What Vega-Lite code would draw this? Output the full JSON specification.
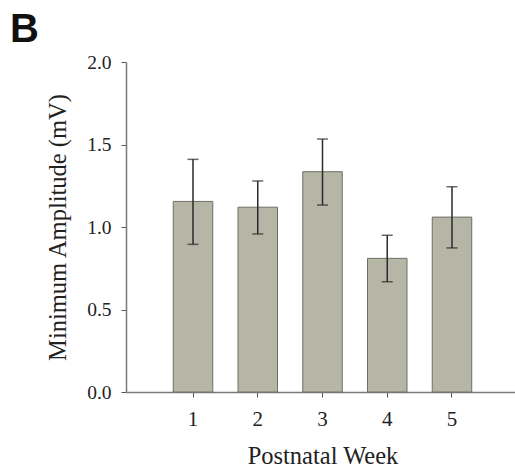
{
  "$schema": "https://vega.github.io/schema/vega-lite/v6.json",
  "autosize": "none",
  "padding": {"left": 126, "top": 62, "right": 0, "bottom": 81},
  "width": 393,
  "height": 330,
  "background": "white",
  "config": {"view": {"stroke": null}, "font": "Liberation Serif"},
  "title": {
    "text": "B",
    "anchor": "start",
    "frame": "group",
    "orient": "top",
    "baseline": "alphabetic",
    "offset": 0,
    "dy": 30,
    "dx": -116,
    "font": "Liberation Sans",
    "fontWeight": "bold",
    "fontSize": 40,
    "color": "#111"
  },
  "data": {
    "values": [
      {"week": "1", "mean": 1.155, "lo": 0.895, "hi": 1.41},
      {"week": "2", "mean": 1.12, "lo": 0.958, "hi": 1.279},
      {"week": "3", "mean": 1.335, "lo": 1.133, "hi": 1.533},
      {"week": "4", "mean": 0.81, "lo": 0.668, "hi": 0.95},
      {"week": "5", "mean": 1.06, "lo": 0.873, "hi": 1.244}
    ]
  },
  "encoding": {
    "x": {
      "field": "week",
      "type": "ordinal",
      "title": "Postnatal Week",
      "scale": {"paddingInner": 0.39, "paddingOuter": 0.73},
      "axis": {
        "labelAngle": 0,
        "labelFont": "Liberation Serif",
        "labelFontSize": 21,
        "labelColor": "#222",
        "labelPadding": 11,
        "tickSize": 5,
        "tickColor": "#555",
        "domainColor": "#7a7a7a",
        "domainWidth": 1.5,
        "titleFont": "Liberation Serif",
        "titleFontSize": 24.5,
        "titleFontWeight": "normal",
        "titleColor": "#222",
        "titlePadding": 15
      }
    }
  },
  "layer": [
    {
      "mark": {"type": "bar", "fill": "#b6b6a6", "stroke": "#6e6e66", "strokeWidth": 1},
      "encoding": {
        "y": {
          "field": "mean",
          "type": "quantitative",
          "title": "Minimum Amplitude (mV)",
          "scale": {"domain": [0, 2], "nice": false},
          "axis": {
            "values": [0, 0.5, 1, 1.5, 2],
            "format": ".1f",
            "grid": false,
            "labelFont": "Liberation Serif",
            "labelFontSize": 19.5,
            "labelColor": "#222",
            "labelPadding": 10,
            "tickSize": 5,
            "tickColor": "#555",
            "domainColor": "#7a7a7a",
            "domainWidth": 1.5,
            "titleFont": "Liberation Serif",
            "titleFontSize": 24.5,
            "titleFontWeight": "normal",
            "titleColor": "#222",
            "titlePadding": 16
          }
        }
      }
    },
    {
      "mark": {"type": "rule", "color": "#2a2a2a", "strokeWidth": 1.5},
      "encoding": {
        "y": {"field": "lo", "type": "quantitative"},
        "y2": {"field": "hi"}
      }
    },
    {
      "mark": {"type": "tick", "color": "#2a2a2a", "thickness": 1.5, "size": 11, "orient": "horizontal"},
      "encoding": {"y": {"field": "lo", "type": "quantitative"}}
    },
    {
      "mark": {"type": "tick", "color": "#2a2a2a", "thickness": 1.5, "size": 11, "orient": "horizontal"},
      "encoding": {"y": {"field": "hi", "type": "quantitative"}}
    }
  ]
}
